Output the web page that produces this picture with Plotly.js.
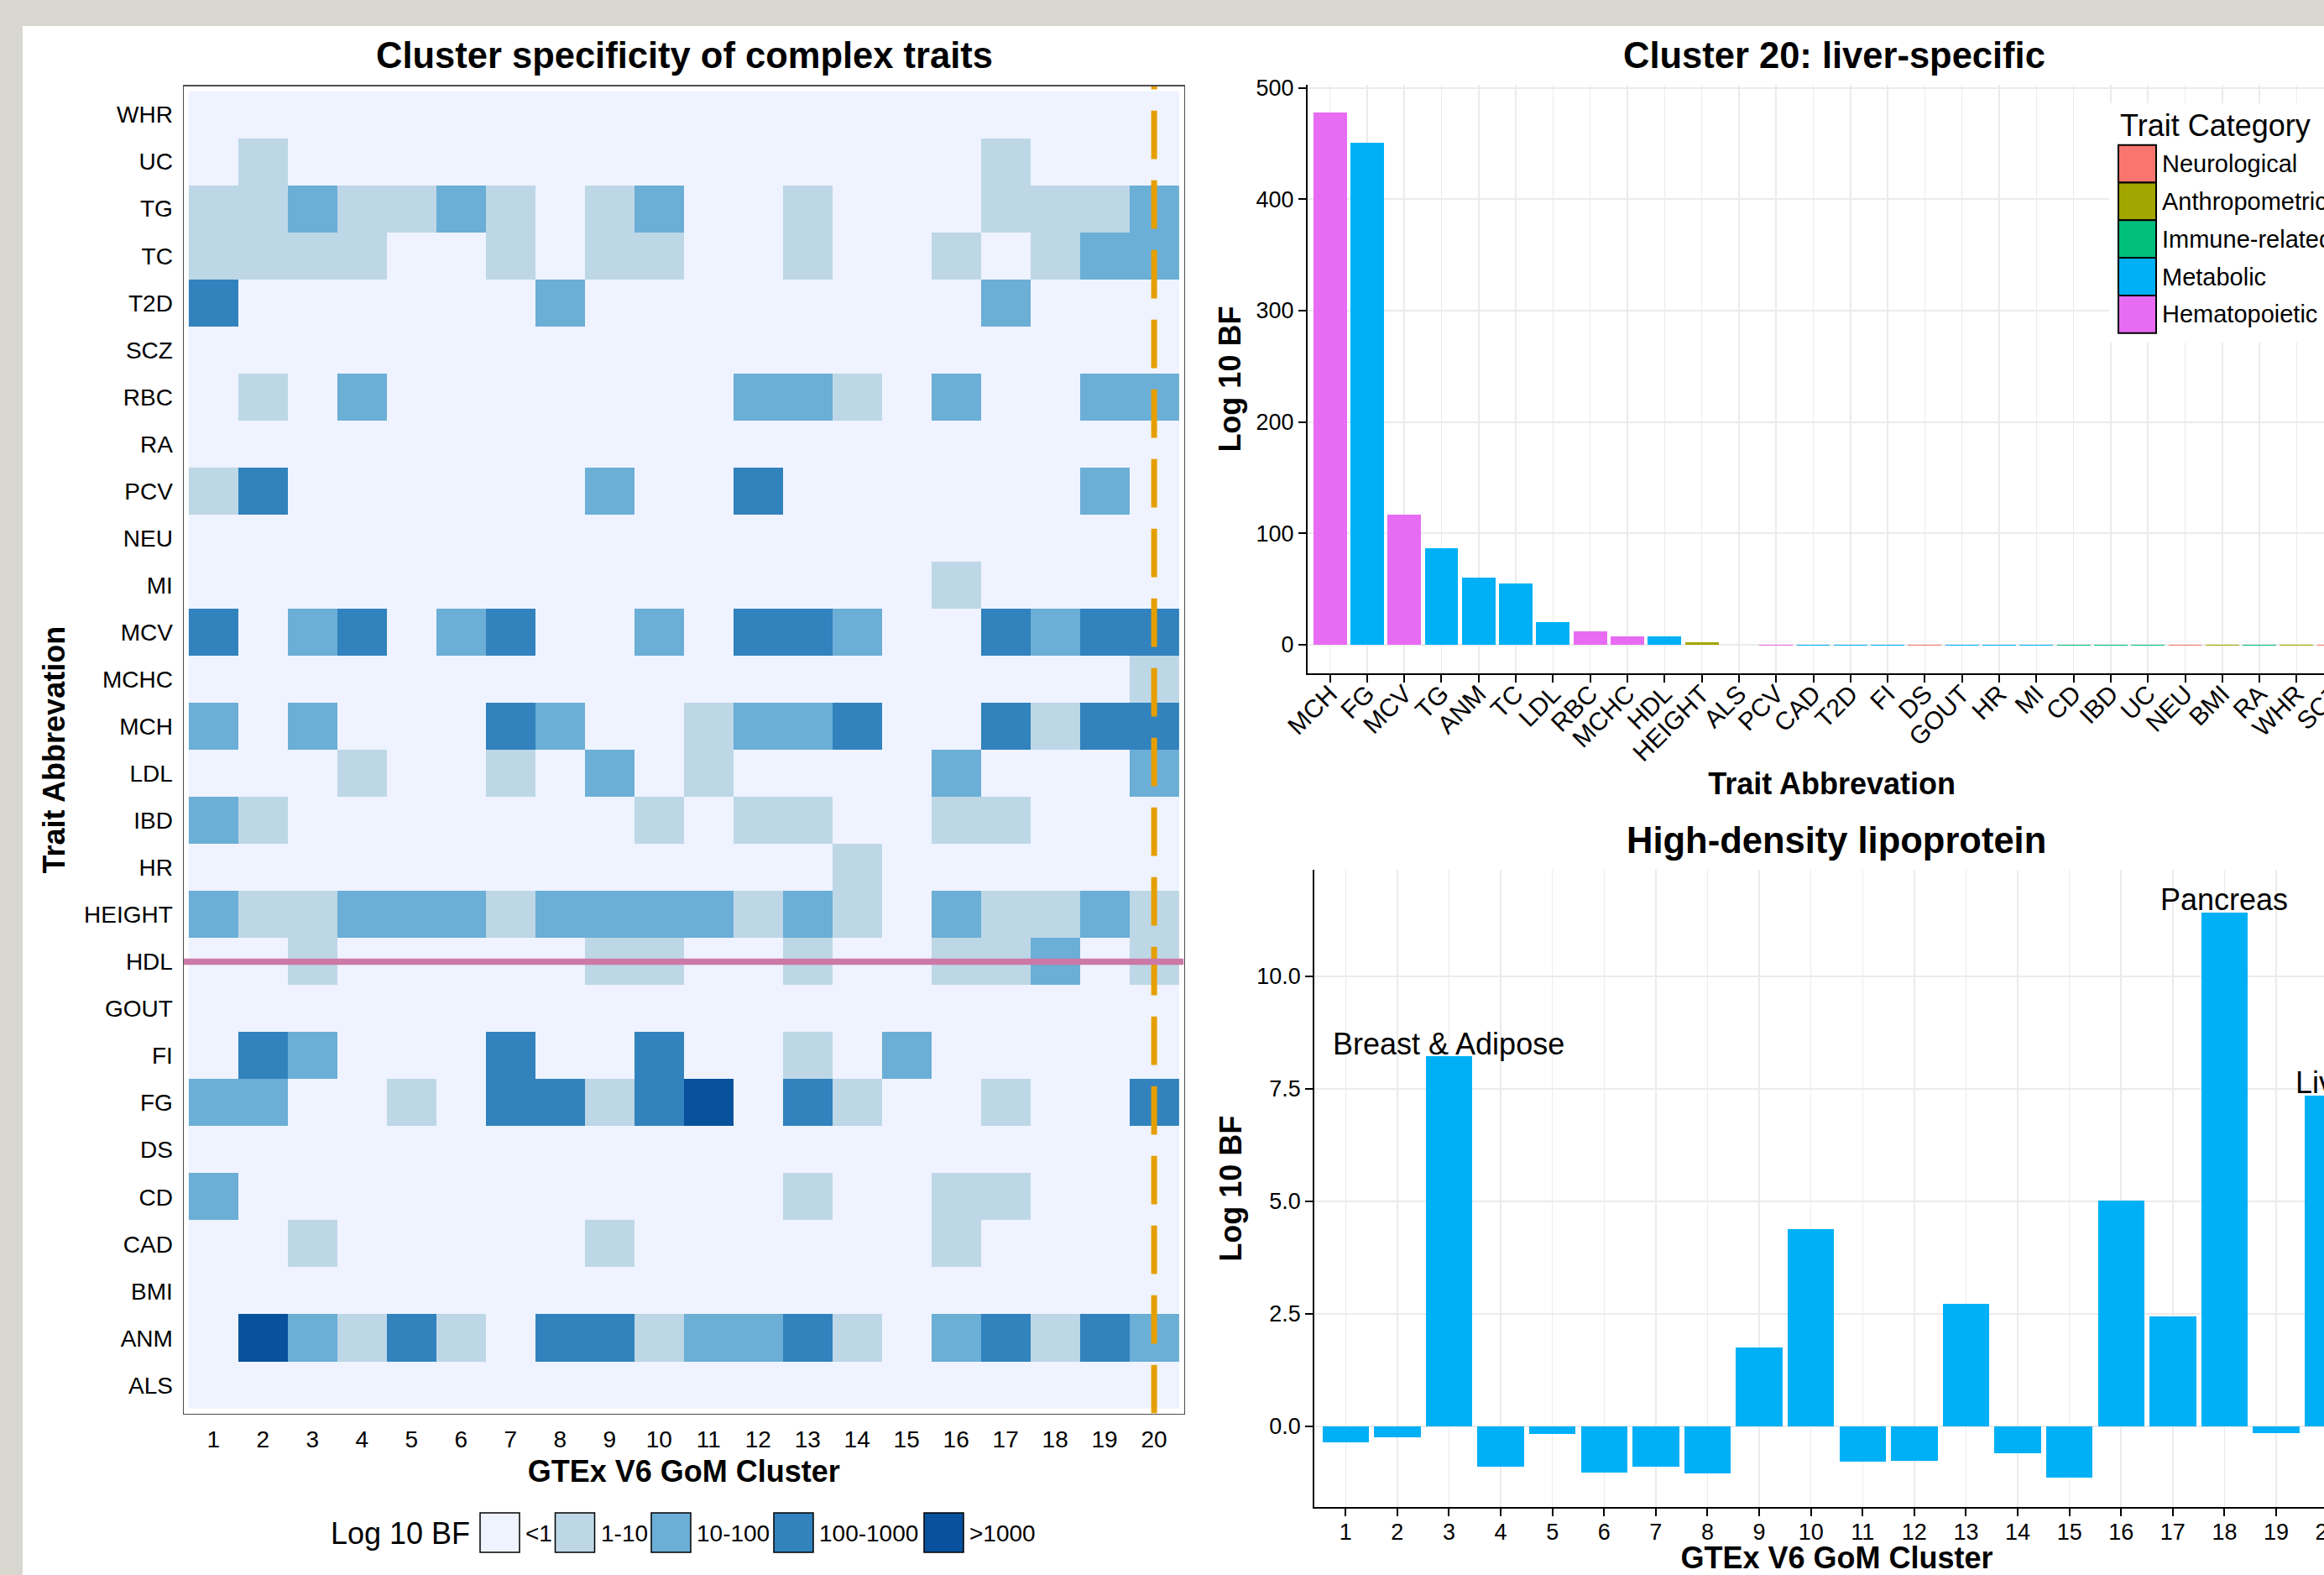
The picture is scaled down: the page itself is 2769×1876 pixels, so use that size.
<!DOCTYPE html>
<html>
<head>
<meta charset="utf-8">
<script src="https://cdn.plot.ly/plotly-3.0.1.min.js"></script>
<style>
  html, body { margin: 0; padding: 0; width: 2769px; height: 1876px; overflow: hidden; background: #ffffff; }
  #bandTop { position: absolute; left: 0; top: 0; width: 2769px; height: 31px; background: #d8d8d0; z-index: 2; }
  #bandLeft { position: absolute; left: 0; top: 0; width: 27px; height: 1876px; background: #d8d8d0; z-index: 2; }
  #chart { position: absolute; left: 0; top: 0; width: 2900px; height: 1876px; }
</style>
</head>
<body>
<div id="bandTop"></div>
<div id="bandLeft"></div>
<div id="chart"></div>
<script>
// ---------------- DATA ----------------
// Heatmap: traits listed top -> bottom, clusters 1..20
const traits = ['WHR','UC','TG','TC','T2D','SCZ','RBC','RA','PCV','NEU','MI','MCV','MCHC','MCH','LDL','IBD','HR','HEIGHT','HDL','GOUT','FI','FG','DS','CD','CAD','BMI','ANM','ALS'];
const clusters = [1,2,3,4,5,6,7,8,9,10,11,12,13,14,15,16,17,18,19,20];
// Log10 BF class per trait (0: <1, 1: 1-10, 2: 10-100, 3: 100-1000, 4: >1000)
const bfLevels = [
  [0,0,0,0,0,0,0,0,0,0,0,0,0,0,0,0,0,0,0,0], // WHR
  [0,1,0,0,0,0,0,0,0,0,0,0,0,0,0,0,1,0,0,0], // UC
  [1,1,2,1,1,2,1,0,1,2,0,0,1,0,0,0,1,1,1,2], // TG
  [1,1,1,1,0,0,1,0,1,1,0,0,1,0,0,1,0,1,2,2], // TC
  [3,0,0,0,0,0,0,2,0,0,0,0,0,0,0,0,2,0,0,0], // T2D
  [0,0,0,0,0,0,0,0,0,0,0,0,0,0,0,0,0,0,0,0], // SCZ
  [0,1,0,2,0,0,0,0,0,0,0,2,2,1,0,2,0,0,2,2], // RBC
  [0,0,0,0,0,0,0,0,0,0,0,0,0,0,0,0,0,0,0,0], // RA
  [1,3,0,0,0,0,0,0,2,0,0,3,0,0,0,0,0,0,2,0], // PCV
  [0,0,0,0,0,0,0,0,0,0,0,0,0,0,0,0,0,0,0,0], // NEU
  [0,0,0,0,0,0,0,0,0,0,0,0,0,0,0,1,0,0,0,0], // MI
  [3,0,2,3,0,2,3,0,0,2,0,3,3,2,0,0,3,2,3,3], // MCV
  [0,0,0,0,0,0,0,0,0,0,0,0,0,0,0,0,0,0,0,1], // MCHC
  [2,0,2,0,0,0,3,2,0,0,1,2,2,3,0,0,3,1,3,3], // MCH
  [0,0,0,1,0,0,1,0,2,0,1,0,0,0,0,2,0,0,0,2], // LDL
  [2,1,0,0,0,0,0,0,0,1,0,1,1,0,0,1,1,0,0,0], // IBD
  [0,0,0,0,0,0,0,0,0,0,0,0,0,1,0,0,0,0,0,0], // HR
  [2,1,1,2,2,2,1,2,2,2,2,1,2,1,0,2,1,1,2,1], // HEIGHT
  [0,0,1,0,0,0,0,0,1,1,0,0,1,0,0,1,1,2,0,1], // HDL
  [0,0,0,0,0,0,0,0,0,0,0,0,0,0,0,0,0,0,0,0], // GOUT
  [0,3,2,0,0,0,3,0,0,3,0,0,1,0,2,0,0,0,0,0], // FI
  [2,2,0,0,1,0,3,3,1,3,4,0,3,1,0,0,1,0,0,3], // FG
  [0,0,0,0,0,0,0,0,0,0,0,0,0,0,0,0,0,0,0,0], // DS
  [2,0,0,0,0,0,0,0,0,0,0,0,1,0,0,1,1,0,0,0], // CD
  [0,0,1,0,0,0,0,0,1,0,0,0,0,0,0,1,0,0,0,0], // CAD
  [0,0,0,0,0,0,0,0,0,0,0,0,0,0,0,0,0,0,0,0], // BMI
  [0,4,2,1,3,1,0,3,3,1,2,2,3,1,0,2,3,1,3,2], // ANM
  [0,0,0,0,0,0,0,0,0,0,0,0,0,0,0,0,0,0,0,0]  // ALS
];
const bfClassLabels = ['<1','1-10','10-100','100-1000','>1000'];
const bfClassColors = ['#eff3ff','#bdd7e7','#6baed6','#3182bd','#08519c'];
const highlightTrait = 'HDL';
const highlightCluster = 20;

// Cluster 20: liver-specific
const c20Traits = ['MCH','FG','MCV','TG','ANM','TC','LDL','RBC','MCHC','HDL','HEIGHT','ALS','PCV','CAD','T2D','FI','DS','GOUT','HR','MI','CD','IBD','UC','NEU','BMI','RA','WHR','SCZ'];
const c20Values = [478,450.5,116.5,86.5,60.3,55,20.6,12.3,7.5,7.35,2,-0.05,-0.7,-0.72,-0.74,-0.76,-0.78,-0.8,-0.82,-0.84,-0.9,-0.92,-0.94,-0.96,-0.98,-1.0,-1.05,-1.1];
const c20Category = ['Hematopoietic','Metabolic','Hematopoietic','Metabolic','Metabolic','Metabolic','Metabolic','Hematopoietic','Hematopoietic','Metabolic','Anthropometric','Neurological','Hematopoietic','Metabolic','Metabolic','Metabolic','Neurological','Metabolic','Metabolic','Metabolic','Immune-related','Immune-related','Immune-related','Neurological','Anthropometric','Immune-related','Anthropometric','Neurological'];
const categoryNames = ['Neurological','Anthropometric','Immune-related','Metabolic','Hematopoietic'];
const categoryColors = ['#F8766D','#A3A500','#00BF7D','#00B0F6','#E76BF3'];

// High-density lipoprotein across clusters
const hdlValues = [-0.36,-0.25,8.22,-0.89,-0.17,-1.03,-0.89,-1.04,1.75,4.39,-0.79,-0.76,2.72,-0.59,-1.14,5.01,2.44,11.41,-0.14,7.35];
const hdlLabelClusters = [3,18,20];
const hdlLabelTexts = ['Breast & Adipose','Pancreas','Liver'];

// ---------------- LAYOUT HELPERS ----------------
const W = 2900, H = 1876;
const FONT = 'Liberation Sans, Arial, Helvetica, sans-serif';
const px = v => v / W;
const py = v => 1 - v / H;

const traces = [];

// Heatmap
const nL = bfClassColors.length;
const cs = [];
bfClassColors.forEach((c, i) => {
  const a = i === 0 ? 0 : (i - 0.5) / (nL - 1);
  const b = i === nL - 1 ? 1 : (i + 0.5) / (nL - 1);
  cs.push([a, c]); cs.push([b, c]);
});
traces.push({
  type: 'heatmap', x: clusters, y: traits, z: bfLevels,
  zmin: 0, zmax: nL - 1, colorscale: cs, showscale: false,
  xaxis: 'x', yaxis: 'y', hoverinfo: 'skip'
});

// Cluster 20 bars
traces.push({
  type: 'bar', x: c20Traits, y: c20Values, width: 0.9,
  marker: { color: c20Category.map(c => categoryColors[categoryNames.indexOf(c)]), line: { width: 0 } },
  xaxis: 'x2', yaxis: 'y2', hoverinfo: 'skip'
});

// HDL bars
traces.push({
  type: 'bar', x: clusters, y: hdlValues, width: 0.9,
  marker: { color: categoryColors[categoryNames.indexOf('Metabolic')], line: { width: 0 } },
  xaxis: 'x3', yaxis: 'y3', hoverinfo: 'skip'
});

const tickFont = { family: FONT, size: 27, color: '#000000' };
const heatTickFont = { family: FONT, size: 28, color: '#000000' };
const rotTickFont = { family: FONT, size: 30, color: '#000000' };
const titleFont = { family: FONT, size: 36, color: '#000000', weight: 'bold' };

const shapes = [];
const annotations = [];

// highlight lines on heatmap
const hlRow = traits.indexOf(highlightTrait);
shapes.push({ type: 'line', xref: 'x', yref: 'y', x0: highlightCluster, x1: highlightCluster, y0: traits.length - 0.4, y1: -0.6,
  line: { color: '#E69F00', width: 7, dash: '57.7px,25.3px' }, layer: 'above' });
shapes.push({ type: 'line', xref: 'x', yref: 'y', x0: 0.4, x1: clusters.length + 0.6, y0: hlRow, y1: hlRow,
  line: { color: '#CC79A7', width: 7.5 }, layer: 'above' });

// Titles
const mainTitleFont = { family: FONT, size: 43.5, color: '#000', weight: 'bold' };
annotations.push({ xref: 'paper', yref: 'paper', x: px(815), y: py(66), text: 'Cluster specificity of complex traits', showarrow: false,
  xanchor: 'center', yanchor: 'middle', font: mainTitleFont });
annotations.push({ xref: 'paper', yref: 'paper', x: px(2185), y: py(66), text: 'Cluster 20: liver-specific', showarrow: false,
  xanchor: 'center', yanchor: 'middle', font: mainTitleFont });
annotations.push({ xref: 'paper', yref: 'paper', x: px(2188), y: py(1000.5), text: 'High-density lipoprotein', showarrow: false,
  xanchor: 'center', yanchor: 'middle', font: mainTitleFont });

// HDL bar labels
hdlLabelClusters.forEach((c, i) => {
  annotations.push({ xref: 'x3', yref: 'y3', x: c, y: hdlValues[c - 1] + 0.28, text: hdlLabelTexts[i], showarrow: false,
    xanchor: 'center', yanchor: 'middle', font: { family: FONT, size: 36, color: '#000' } });
});

// Trait Category legend (top-right)
shapes.push({ type: 'rect', xref: 'paper', yref: 'paper', x0: px(2513), x1: px(2900), y0: py(408), y1: py(123),
  fillcolor: '#ffffff', line: { width: 0 }, layer: 'above' });
annotations.push({ xref: 'paper', yref: 'paper', x: px(2524), y: py(149.5), text: 'Trait Category', showarrow: false,
  xanchor: 'left', yanchor: 'middle', font: { family: FONT, size: 36, color: '#000' } });
const legTop = 172.7, legKey = 44.8;
categoryNames.forEach((name, i) => {
  const y0 = legTop + i * legKey, y1 = y0 + legKey;
  shapes.push({ type: 'rect', xref: 'paper', yref: 'paper', x0: px(2524), x1: px(2569), y0: py(y1), y1: py(y0),
    fillcolor: categoryColors[i], line: { color: '#000000', width: 2 }, layer: 'above' });
  annotations.push({ xref: 'paper', yref: 'paper', x: px(2574), y: py((y0 + y1) / 2), text: name, showarrow: false,
    xanchor: 'left', yanchor: 'middle', font: { family: FONT, size: 29, color: '#000' } });
});

// Log 10 BF legend (bottom-left)
annotations.push({ xref: 'paper', yref: 'paper', x: px(392), y: py(1826), text: 'Log 10 BF', showarrow: false,
  xanchor: 'left', yanchor: 'middle', font: { family: FONT, size: 36, color: '#000' } });
const bfKeyX = [572, 661.5, 776, 922, 1101];
bfClassLabels.forEach((lab, i) => {
  shapes.push({ type: 'rect', xref: 'paper', yref: 'paper', x0: px(bfKeyX[i]), x1: px(bfKeyX[i] + 47), y0: py(1849), y1: py(1802),
    fillcolor: bfClassColors[i], line: { color: '#000000', width: 1.5 }, layer: 'above' });
  annotations.push({ xref: 'paper', yref: 'paper', x: px(bfKeyX[i] + 52), y: py(1826), text: lab.replace('<', '&lt;').replace('>', '&gt;'), showarrow: false,
    xanchor: 'left', yanchor: 'middle', font: { family: FONT, size: 28, color: '#000' } });
});

const layout = {
  width: W, height: H,
  margin: { l: 0, r: 0, t: 0, b: 0, pad: 0 },
  paper_bgcolor: 'rgba(0,0,0,0)', plot_bgcolor: '#ffffff',
  showlegend: false,
  font: { family: FONT, color: '#000' },
  // heatmap
  xaxis: {
    domain: [px(219), px(1410.5)], anchor: 'y', range: [0.4, clusters.length + 0.6],
    tickmode: 'array', tickvals: clusters, ticktext: clusters.map(String),
    showgrid: false, zeroline: false, showline: true, mirror: true, linecolor: '#4d4d4d', linewidth: 1.5,
    ticks: 'outside', ticklen: 5, tickcolor: 'rgba(0,0,0,0)', tickfont: heatTickFont,
    title: { text: 'GTEx V6 GoM Cluster', font: titleFont, standoff: 11 }
  },
  yaxis: {
    domain: [py(1683.55), py(102.95)], anchor: 'x', type: 'category', range: [traits.length - 0.4, -0.6],
    showgrid: false, zeroline: false, showline: true, mirror: true, linecolor: '#4d4d4d', linewidth: 1.5,
    ticks: 'outside', ticklen: 6, tickcolor: 'rgba(0,0,0,0)', tickfont: heatTickFont,
    title: { text: 'Trait Abbrevation', font: titleFont, standoff: 11 }
  },
  // cluster 20 bar chart
  xaxis2: {
    domain: [px(1558), px(2807.3)], anchor: 'y2', type: 'category', range: [-0.6, c20Traits.length - 0.4],
    tickangle: -45, ticks: 'outside', ticklen: 9, tickwidth: 2, tickcolor: '#000', ticklabelstandoff: -16,
    showline: true, linecolor: '#000', linewidth: 2, showgrid: true, gridcolor: '#ebebeb', gridwidth: 1.5, zeroline: false,
    tickfont: rotTickFont,
    title: { text: 'Trait Abbrevation', font: titleFont, standoff: 0 }
  },
  yaxis2: {
    domain: [py(802), py(101.2)], anchor: 'x2', range: [-25.6, 502.5],
    tickmode: 'array', tickvals: [0,100,200,300,400,500],
    ticks: 'outside', ticklen: 9, tickwidth: 2, tickcolor: '#000',
    showline: true, linecolor: '#000', linewidth: 2, showgrid: true, gridcolor: '#ebebeb', gridwidth: 2, zeroline: false,
    tickfont: tickFont,
    title: { text: 'Log 10 BF', font: titleFont, standoff: 7 }
  },
  // HDL bar chart
  xaxis3: {
    domain: [px(1566.3), px(2810.6)], anchor: 'y3', range: [0.4, clusters.length + 0.6],
    tickmode: 'array', tickvals: clusters, ticktext: clusters.map(String),
    ticks: 'outside', ticklen: 9, tickwidth: 2, tickcolor: '#000', ticklabelstandoff: -5,
    showline: true, linecolor: '#000', linewidth: 2, showgrid: true, gridcolor: '#ebebeb', gridwidth: 1.5, zeroline: false,
    tickfont: tickFont,
    title: { text: 'GTEx V6 GoM Cluster', font: titleFont, standoff: 30 }
  },
  yaxis3: {
    domain: [py(1795.3), py(1036)], anchor: 'x3', range: [-1.795, 12.36],
    tickmode: 'array', tickvals: [0, 2.5, 5, 7.5, 10], ticktext: ['0.0','2.5','5.0','7.5','10.0'],
    ticks: 'outside', ticklen: 9, tickwidth: 2, tickcolor: '#000',
    showline: true, linecolor: '#000', linewidth: 2, showgrid: true, gridcolor: '#ebebeb', gridwidth: 2, zeroline: false,
    tickfont: tickFont,
    title: { text: 'Log 10 BF', font: titleFont, standoff: 7 }
  },
  shapes: shapes,
  annotations: annotations,
  bargap: 0
};

Plotly.newPlot('chart', traces, layout, { staticPlot: true, displayModeBar: false });
</script>
</body>
</html>
